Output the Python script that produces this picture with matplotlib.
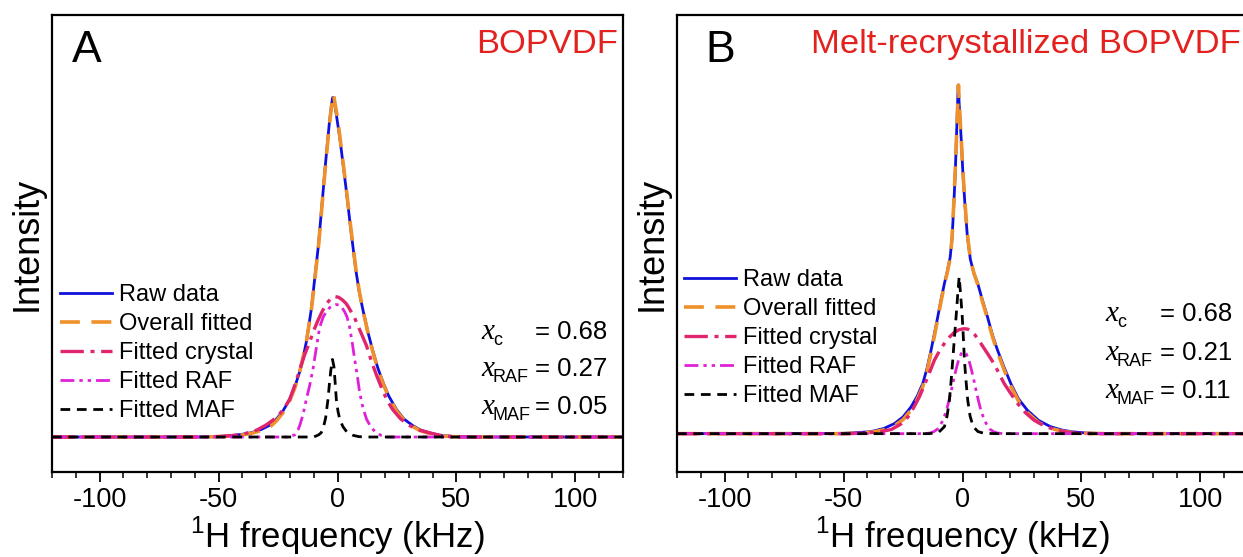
import matplotlib
matplotlib.use("Agg")
import matplotlib.pyplot as plt
from matplotlib.ticker import MultipleLocator

plt.rcParams['font.family'] = ['Liberation Sans', 'DejaVu Sans']
plt.rcParams['axes.unicode_minus'] = False
plt.rcParams['mathtext.fontset'] = 'custom'
plt.rcParams['mathtext.rm'] = 'Liberation Sans'

# ---------------- data (kHz, normalised intensity) ----------------
A_raw_x = [-120, -60, -50, -45, -40, -36, -32, -28, -25.7, -23, -20.1, -18, -15.9, -14.5, -13.1, -11.0, -9.6, -8, -6.5, -5, -3.5, -2.5, -2, -1.5, -0.5, 1, 3.5, 5.5, 7.7, 9.2, 10.7, 12.8, 14.9, 17, 19.1, 21.5, 24.8, 28, 31.7, 35, 38.8, 43, 48, 55, 120]
A_raw_y = [0, 0, 0.001, 0.004, 0.008, 0.013, 0.022, 0.036, 0.052, 0.075, 0.11, 0.145, 0.19, 0.23, 0.277, 0.373, 0.46, 0.56, 0.68, 0.80, 0.91, 0.97, 0.99, 0.985, 0.94, 0.87, 0.73, 0.61, 0.487, 0.42, 0.37, 0.305, 0.25, 0.20, 0.16, 0.12, 0.08, 0.052, 0.033, 0.02, 0.012, 0.005, 0.002, 0, 0]
A_fit_x = [-120, -60, -50, -45, -40, -36, -32, -28, -25.7, -23, -20.1, -18, -15.9, -14.5, -13.1, -11.0, -9.6, -8, -6.5, -5, -3.5, -2.4, -1.7, -1.0, 0, 1, 3.5, 5.5, 7.7, 9.2, 10.7, 12.8, 14.9, 17, 19.1, 21.5, 24.8, 28, 31.7, 35, 38.8, 43, 48, 55, 120]
A_fit_y = [0, 0, 0.001, 0.003, 0.006, 0.011, 0.019, 0.032, 0.047, 0.07, 0.105, 0.142, 0.19, 0.232, 0.277, 0.37, 0.455, 0.555, 0.675, 0.795, 0.905, 0.97, 1.0, 0.97, 0.93, 0.875, 0.735, 0.615, 0.49, 0.423, 0.37, 0.303, 0.247, 0.197, 0.157, 0.117, 0.076, 0.049, 0.03, 0.018, 0.01, 0.004, 0.001, 0, 0]
A_cry_x = [-120, -55, -48, -43, -38.8, -34, -30, -27, -24, -22, -20.1, -18, -15.9, -13.8, -11.7, -10, -8.2, -6.5, -5, -3, -1.3, 0.5, 2, 3.5, 4.5, 6, 7.2, 9.5, 12.2, 14.3, 16.4, 19, 21, 23.2, 26.5, 30.4, 34.5, 38.8, 43, 48, 55, 120]
A_cry_y = [0, 0, 0.002, 0.005, 0.01, 0.02, 0.035, 0.05, 0.07, 0.088, 0.11, 0.15, 0.195, 0.24, 0.277, 0.31, 0.34, 0.365, 0.385, 0.402, 0.41, 0.407, 0.40, 0.39, 0.38, 0.362, 0.347, 0.31, 0.266, 0.22, 0.18, 0.135, 0.105, 0.08, 0.053, 0.033, 0.02, 0.012, 0.005, 0.001, 0, 0]
A_raf_x = [-120, -21, -18, -16.5, -15.9, -14.5, -13.1, -11.7, -10.3, -8.9, -7.5, -6, -4.7, -3.3, -2, -0.7, 0.5, 1.8, 3, 4, 5.1, 6.2, 7.2, 8.3, 9.3, 10.7, 12.2, 14.2, 16.4, 18.5, 21, 120]
A_raf_y = [0, 0, 0.006, 0.022, 0.033, 0.065, 0.11, 0.15, 0.198, 0.26, 0.32, 0.35, 0.365, 0.377, 0.383, 0.386, 0.385, 0.378, 0.365, 0.35, 0.32, 0.275, 0.227, 0.18, 0.13, 0.085, 0.052, 0.027, 0.012, 0.004, 0, 0]
A_maf_x = [-120, -10, -8, -6.9, -6.1, -5, -4, -3.4, -2.8, -2.1, -1.5, -1, -0.5, 0.2, 1, 2.3, 4, 6.5, 9, 12, 120]
A_maf_y = [0, 0, 0.006, 0.012, 0.023, 0.055, 0.11, 0.155, 0.195, 0.226, 0.205, 0.16, 0.11, 0.075, 0.05, 0.03, 0.014, 0.005, 0.001, 0, 0]

B_raw_x = [-120, -60, -50, -44, -38.3, -33, -28.6, -25, -21.6, -19, -16.7, -15, -13.2, -11.8, -10.4, -9, -7.6, -6.4, -5.2, -4.4, -3.7, -3.0, -2.4, -1.8, -1.2, -0.5, 0.1, 1, 2, 3.3, 4.8, 6.4, 8.5, 10.5, 12.5, 14.7, 17.5, 20.3, 23.5, 27.3, 32, 37, 42, 46.6, 52, 60, 120]
B_raw_y = [0, 0, 0.001, 0.003, 0.006, 0.015, 0.029, 0.048, 0.077, 0.108, 0.144, 0.185, 0.24, 0.287, 0.335, 0.385, 0.431, 0.465, 0.505, 0.56, 0.65, 0.756, 0.88, 1.0, 0.92, 0.84, 0.756, 0.66, 0.57, 0.50, 0.46, 0.431, 0.38, 0.335, 0.285, 0.24, 0.19, 0.144, 0.10, 0.067, 0.038, 0.02, 0.01, 0.005, 0.002, 0, 0]
B_fit_x = [-120, -60, -50, -44, -38.3, -33, -28.6, -25, -21.6, -19, -16.7, -15, -13.2, -11.8, -10.4, -9, -7.6, -6.4, -5.2, -4.4, -3.7, -3.0, -2.3, -1.7, -1.1, -0.5, 0.1, 1, 2, 3.3, 4.8, 6.4, 8.5, 10.5, 12.5, 14.7, 17.5, 20.3, 23.5, 27.3, 32, 37, 42, 46.6, 52, 60, 120]
B_fit_y = [0, 0, 0.0, 0.002, 0.004, 0.011, 0.023, 0.04, 0.068, 0.099, 0.135, 0.177, 0.232, 0.28, 0.33, 0.38, 0.428, 0.462, 0.503, 0.56, 0.655, 0.765, 0.89, 1.0, 0.915, 0.84, 0.76, 0.665, 0.575, 0.502, 0.46, 0.428, 0.376, 0.33, 0.28, 0.234, 0.183, 0.137, 0.094, 0.06, 0.032, 0.015, 0.007, 0.003, 0.001, 0, 0]
B_cry_x = [-120, -48, -41, -35, -29.9, -26, -22.9, -20.5, -18.1, -16.3, -14.6, -13.2, -11.8, -9.7, -7.6, -5.5, -3.5, -1.5, 0.5, 2.2, 3.7, 5, 6.4, 7.7, 10.5, 13.3, 15.4, 17.5, 20.3, 23.1, 26.5, 30, 35, 39.8, 44, 48, 55, 120]
B_cry_y = [0, 0, 0.002, 0.005, 0.012, 0.027, 0.048, 0.075, 0.106, 0.135, 0.163, 0.187, 0.211, 0.237, 0.259, 0.277, 0.29, 0.298, 0.301, 0.30, 0.294, 0.285, 0.273, 0.259, 0.23, 0.20, 0.172, 0.144, 0.115, 0.087, 0.06, 0.039, 0.02, 0.01, 0.004, 0.001, 0, 0]
B_raf_x = [-120, -16, -13.5, -12, -10.5, -9.5, -8.5, -7.5, -6.5, -5.7, -4.9, -4.2, -3.5, -2.5, -1.5, -0.5, 0.5, 1.5, 2.5, 3.5, 4.5, 5.2, 5.9, 6.7, 7.5, 8.5, 9.5, 10.5, 11.5, 13, 14.5, 17, 120]
B_raf_y = [0, 0, 0.002, 0.006, 0.013, 0.022, 0.035, 0.052, 0.073, 0.095, 0.118, 0.14, 0.162, 0.19, 0.215, 0.23, 0.235, 0.23, 0.215, 0.19, 0.162, 0.14, 0.118, 0.095, 0.073, 0.052, 0.035, 0.022, 0.013, 0.006, 0.002, 0, 0]
B_maf_x = [-120, -14, -10, -7.6, -6.5, -5.5, -4.8, -4.1, -3.4, -2.7, -2.0, -1.4, -0.8, -0.1, 0.4, 0.8, 1.5, 2.2, 3.2, 4.5, 6.5, 9, 14, 120]
B_maf_y = [0, 0, 0.004, 0.02, 0.05, 0.096, 0.15, 0.211, 0.275, 0.335, 0.40, 0.45, 0.40, 0.335, 0.27, 0.211, 0.15, 0.096, 0.05, 0.02, 0.006, 0.001, 0, 0]

series_labels = ["Raw data", "Overall fitted", "Fitted crystal", "Fitted RAF", "Fitted MAF"]
panel_letters = ["A", "B"]
panel_titles = ["BOPVDF", "Melt-recrystallized BOPVDF"]
frac_names = ["c", "RAF", "MAF"]
A_fracs = ["0.68", "0.27", "0.05"]
B_fracs = ["0.68", "0.21", "0.11"]
x_ticks = [-100, -50, 0, 50, 100]

# ---------------- figure ----------------
W, H = 1243, 557
fig = plt.figure(figsize=(W / 100, H / 100), dpi=100)

def fr(x0, x1, y0, y1):
    return [x0 / W, 1 - y1 / H, (x1 - x0) / W, (y1 - y0) / H]

styles = [
    dict(color='#1010DC', lw=2.0, ls='-'),
    dict(color='#F0902A', lw=2.6, ls=(0, (5.5, 3.2))),
    dict(color='#E0246E', lw=2.4, ls=(0, (7, 2.0, 1.2, 2.0))),
    dict(color='#E020D8', lw=2.0, ls=(0, (5, 1.8, 1.2, 1.8, 1.2, 1.8))),
    dict(color='black', lw=2.0, ls=(0, (3.5, 2.4))),
]

panels = [
    dict(frame=(52, 623, 15, 472), ylim=(-0.102, 1.230),
         data=[(A_raw_x, A_raw_y), (A_fit_x, A_fit_y), (A_cry_x, A_cry_y), (A_raf_x, A_raf_y), (A_maf_x, A_maf_y)],
         letter=(72, 62), title=(618, 53), leg=(60, 284), lab_x=481, sub_x=493, eq_x=535,
         rows=(339, 376, 414), fracs=A_fracs),
    dict(frame=(677, 1248, 15, 472), ylim=(-0.110, 1.201),
         data=[(B_raw_x, B_raw_y), (B_fit_x, B_fit_y), (B_cry_x, B_cry_y), (B_raf_x, B_raf_y), (B_maf_x, B_maf_y)],
         letter=(705, 62), title=(1241, 53), leg=(684, 269), lab_x=1105, sub_x=1117, eq_x=1160,
         rows=(321, 360, 398), fracs=B_fracs),
]

for i, p in enumerate(panels):
    x0, x1, y0, y1 = p['frame']
    ax = fig.add_axes(fr(x0, x1, y0, y1))
    for (xs, ys), st, lab in zip(p['data'], styles, series_labels):
        ax.plot(xs, ys, label=lab, **st)
    ax.set_xlim(-120, 120)
    ax.set_ylim(*p['ylim'])
    ax.set_yticks([])
    ax.set_xticks(x_ticks)
    ax.xaxis.set_minor_locator(MultipleLocator(10))
    ax.tick_params(axis='x', which='major', direction='out', length=7, width=1.3, labelsize=19.5, pad=4)
    ax.tick_params(axis='x', which='minor', direction='out', length=4, width=1.1)
    for s in ax.spines.values():
        s.set_linewidth(1.6)
    ax.set_ylabel("Intensity", fontsize=26, labelpad=5)
    ax.set_xlabel("$^{1}$H frequency (kHz)", fontsize=25, labelpad=1)

    def axf(px, py):
        return ((px - x0) / (x1 - x0), (y1 - py) / (y1 - y0))

    ax.text(*axf(*p['letter']), panel_letters[i], transform=ax.transAxes,
            fontsize=32, ha='left', va='baseline')
    ax.text(*axf(*p['title']), panel_titles[i], transform=ax.transAxes,
            fontsize=24.8, ha='right', va='baseline', color='#E3211E', clip_on=False)

    lx, ly = axf(*p['leg'])
    ax.legend(loc='upper left', bbox_to_anchor=(lx, ly), frameon=False, fontsize=17,
              handlelength=2.2, handletextpad=0.3, labelspacing=0.3,
              borderpad=0, borderaxespad=0)

    for name, val, ry in zip(frac_names, p['fracs'], p['rows']):
        ax.text(*axf(p['lab_x'], ry), "x", transform=ax.transAxes,
                fontsize=21, ha='left', va='baseline',
                family='Liberation Serif', style='italic')
        ax.text(*axf(p['sub_x'], ry + 6), name, transform=ax.transAxes,
                fontsize=13, ha='left', va='baseline')
        ax.text(*axf(p['eq_x'], ry), "= " + val, transform=ax.transAxes,
                fontsize=18.5, ha='left', va='baseline')

fig.savefig("out.png", dpi=100)
